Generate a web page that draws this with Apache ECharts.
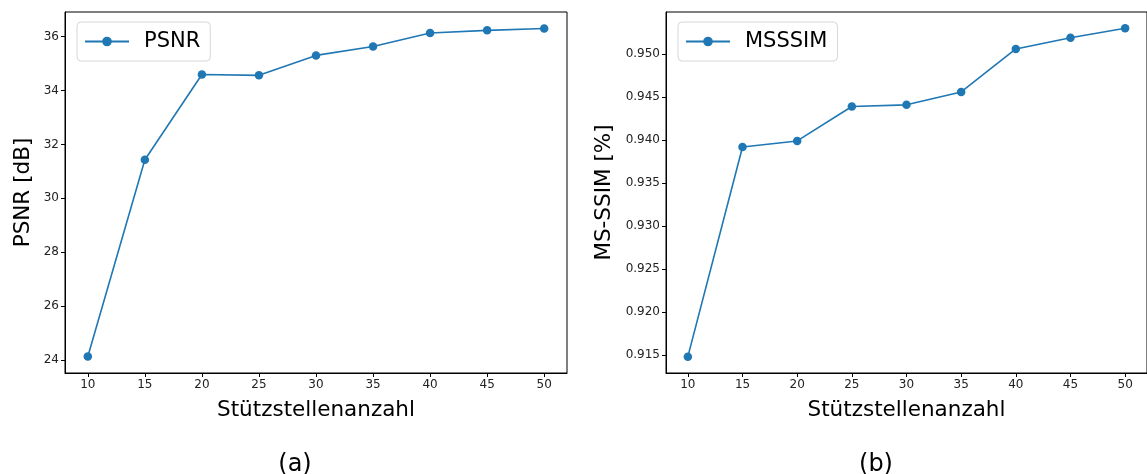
<!DOCTYPE html>
<html>
<head>
<meta charset="utf-8">
<script src="https://cdn.jsdelivr.net/npm/echarts@6/dist/echarts.min.js"></script>
<style>
html,body{margin:0;padding:0;background:#fff;}
#chart{width:1147px;height:474px;}
</style>
</head>
<body>
<div id="chart"></div>
<script>
const xValues = [10, 15, 20, 25, 30, 35, 40, 45, 50];
const psnr = [24.13, 31.43, 34.59, 34.56, 35.30, 35.63, 36.13, 36.23, 36.30];
const msssim = [0.9148, 0.9392, 0.9399, 0.9439, 0.9441, 0.9456, 0.9506, 0.9519, 0.9530];
const xTicks = [10, 15, 20, 25, 30, 35, 40, 45, 50];
const psnrTicks = [24, 26, 28, 30, 32, 34, 36];
const msssimTicks = [0.915, 0.920, 0.925, 0.930, 0.935, 0.940, 0.945, 0.950];

const FONT = 'DejaVu Sans';
const BLUE = '#1f77b4';

function pairs(xs, ys) { return xs.map((x, i) => [x, ys[i]]); }

function xAxis(gridIndex) {
  return {
    type: 'value', gridIndex, min: 8, max: 52,
    name: 'Stützstellenanzahl', nameLocation: 'middle', nameGap: 26,
    nameTextStyle: { fontFamily: FONT, fontSize: 21.5, color: '#000' },
    axisLine: { show: true, onZero: false, lineStyle: { color: '#000', width: 1 } },
    axisTick: { show: true, length: 4, lineStyle: { color: '#000' }, customValues: xTicks },
    axisLabel: { fontFamily: FONT, fontSize: 12, color: '#222', margin: 6, customValues: xTicks },
    splitLine: { show: false }
  };
}
function yAxis(gridIndex, min, max, ticks, name, gap, fmt) {
  return {
    type: 'value', gridIndex, min, max, scale: true,
    name, nameLocation: 'middle', nameGap: gap,
    nameTextStyle: { fontFamily: FONT, fontSize: 21.5, color: '#000' },
    axisLine: { show: true, onZero: false, lineStyle: { color: '#000', width: 1 } },
    axisTick: { show: true, length: 4, lineStyle: { color: '#000' }, customValues: ticks },
    axisLabel: { fontFamily: FONT, fontSize: 12, color: '#222', margin: 6, customValues: ticks, formatter: fmt },
    splitLine: { show: false }
  };
}
function legend(left, name) {
  return {
    data: [name], left, top: 22, orient: 'horizontal',
    itemWidth: 44, itemHeight: 12,
    padding: [9, 10, 9, 7],
    backgroundColor: '#fff', borderColor: '#d6d6d6', borderWidth: 1, borderRadius: 4,
    textStyle: { fontFamily: FONT, fontSize: 21, color: '#000', padding: [0, 0, 0, 10] }
  };
}
function series(name, data, xi, yi) {
  return {
    name, type: 'line', xAxisIndex: xi, yAxisIndex: yi, data,
    symbol: 'circle', symbolSize: 8.5, showSymbol: true,
    lineStyle: { color: BLUE, width: 1.6 }, itemStyle: { color: BLUE },
    animation: false
  };
}

const chart = echarts.init(document.getElementById('chart'), null, { renderer: 'canvas' });
chart.setOption({
  backgroundColor: '#fff',
  animation: false,
  title: [
    { text: '(a)', left: 290, top: 460, textAlign: 'center', textVerticalAlign: 'middle',
      textStyle: { fontFamily: FONT, fontSize: 24, fontWeight: 'normal', color: '#000' } },
    { text: '(b)', left: 871, top: 460, textAlign: 'center', textVerticalAlign: 'middle',
      textStyle: { fontFamily: FONT, fontSize: 24, fontWeight: 'normal', color: '#000' } }
  ],
  grid: [
    { left: 65, top: 12, width: 502, height: 361, show: true, borderColor: '#000', borderWidth: 1, containLabel: false },
    { left: 666, top: 12, width: 484, height: 361, show: true, borderColor: '#000', borderWidth: 1, containLabel: false }
  ],
  legend: [legend(77, 'PSNR'), legend(678, 'MSSSIM')],
  xAxis: [xAxis(0), xAxis(1)],
  yAxis: [
    yAxis(0, 23.52, 36.91, psnrTicks, 'PSNR [dB]', 31, v => String(v)),
    yAxis(1, 0.9129, 0.9549, msssimTicks, 'MS-SSIM [%]', 51, v => v.toFixed(3))
  ],
  series: [
    series('PSNR', pairs(xValues, psnr), 0, 0),
    series('MSSSIM', pairs(xValues, msssim), 1, 1)
  ]
});
</script>
</body>
</html>
